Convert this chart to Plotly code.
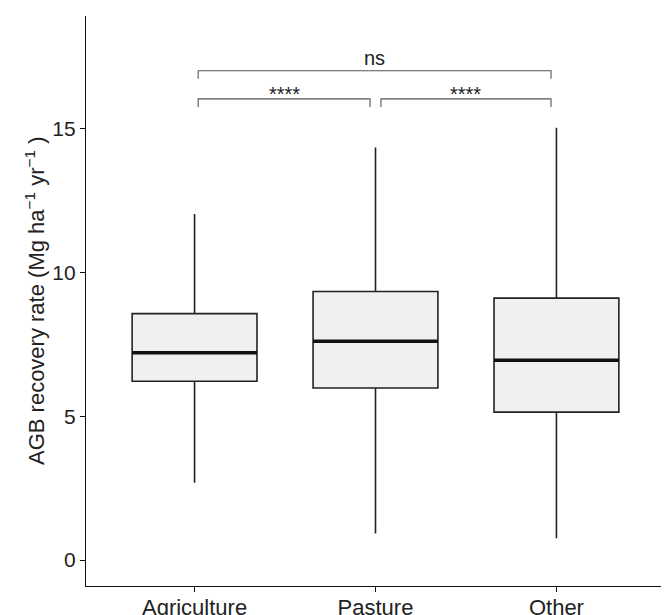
import plotly.graph_objects as go

categories = ["Agriculture", "Pasture", "Other"]
positions = [1, 2, 3]
lower_whisker = [2.69, 0.92, 0.76]
q1 = [6.21, 5.98, 5.14]
median = [7.20, 7.60, 6.94]
q3 = [8.56, 9.33, 9.10]
upper_whisker = [12.02, 14.33, 15.02]

bracket_left = [1.02, 2.03, 1.02]
bracket_right = [1.97, 2.97, 2.97]
bracket_y = [16.02, 16.02, 17.0]
bracket_labels = ["****", "****", "ns"]
tip_drop = 0.28

y_ticks = [0, 5, 10, 15]
box_width = 0.69

FONT = "Liberation Sans, Arial, sans-serif"

fig = go.Figure()

fig.add_trace(go.Box(
    x=positions,
    q1=q1, median=median, q3=q3,
    lowerfence=lower_whisker, upperfence=upper_whisker,
    width=box_width,
    whiskerwidth=0,
    fillcolor="#f0f0f0",
    line=dict(color="#222222", width=1.6),
    boxpoints=False,
    hoverinfo="skip",
    showlegend=False,
))

# thicker median lines
mx, my = [], []
for p, m in zip(positions, median):
    mx += [p - box_width / 2, p + box_width / 2, None]
    my += [m, m, None]
fig.add_trace(go.Scatter(x=mx, y=my, mode="lines",
                         line=dict(color="#111111", width=3.5),
                         hoverinfo="skip", showlegend=False))

# significance brackets
bx, by = [], []
for l, r, y in zip(bracket_left, bracket_right, bracket_y):
    bx += [l, l, r, r, None]
    by += [y - tip_drop, y, y, y - tip_drop, None]
fig.add_trace(go.Scatter(x=bx, y=by, mode="lines",
                         line=dict(color="#555555", width=1.1),
                         hoverinfo="skip", showlegend=False))

for l, r, y, lab in zip(bracket_left, bracket_right, bracket_y, bracket_labels):
    fig.add_annotation(x=(l + r) / 2, y=y, text=lab, showarrow=False,
                       yanchor="bottom", yshift=(0 if lab == "ns" else -8),
                       font=dict(family=FONT, size=20, color="#222222"))

fig.add_annotation(xref="paper", yref="paper", x=0, y=0.5, xshift=-51,
                   text="AGB recovery rate (Mg ha<sup>−1</sup> yr<sup>−1</sup> )",
                   textangle=-90, showarrow=False, xanchor="center", yanchor="middle",
                   font=dict(family=FONT, size=22, color="#222222"))

fig.update_layout(
    width=661, height=607,
    margin=dict(l=78, r=4, t=8, b=29, autoexpand=False),
    plot_bgcolor="white", paper_bgcolor="white",
    font=dict(family=FONT, color="#222222"),
    xaxis=dict(range=[0.4, 3.6], tickvals=positions, ticktext=categories,
               showgrid=False, zeroline=False, showline=True, linecolor="#111111",
               linewidth=1.4, ticks="outside", ticklen=5, tickwidth=1.3, tickcolor="#111111",
               ticklabelstandoff=-4,
               tickfont=dict(family=FONT, size=22, color="#222222"), fixedrange=True),
    yaxis=dict(range=[-0.9, 18.9], tickvals=y_ticks,
               showgrid=False, zeroline=False, showline=True, linecolor="#111111",
               linewidth=1.4, ticks="outside", ticklen=5, tickwidth=1.3, tickcolor="#111111",
               tickfont=dict(family=FONT, size=21, color="#222222"), fixedrange=True),
)

fig.write_html("out.html")
